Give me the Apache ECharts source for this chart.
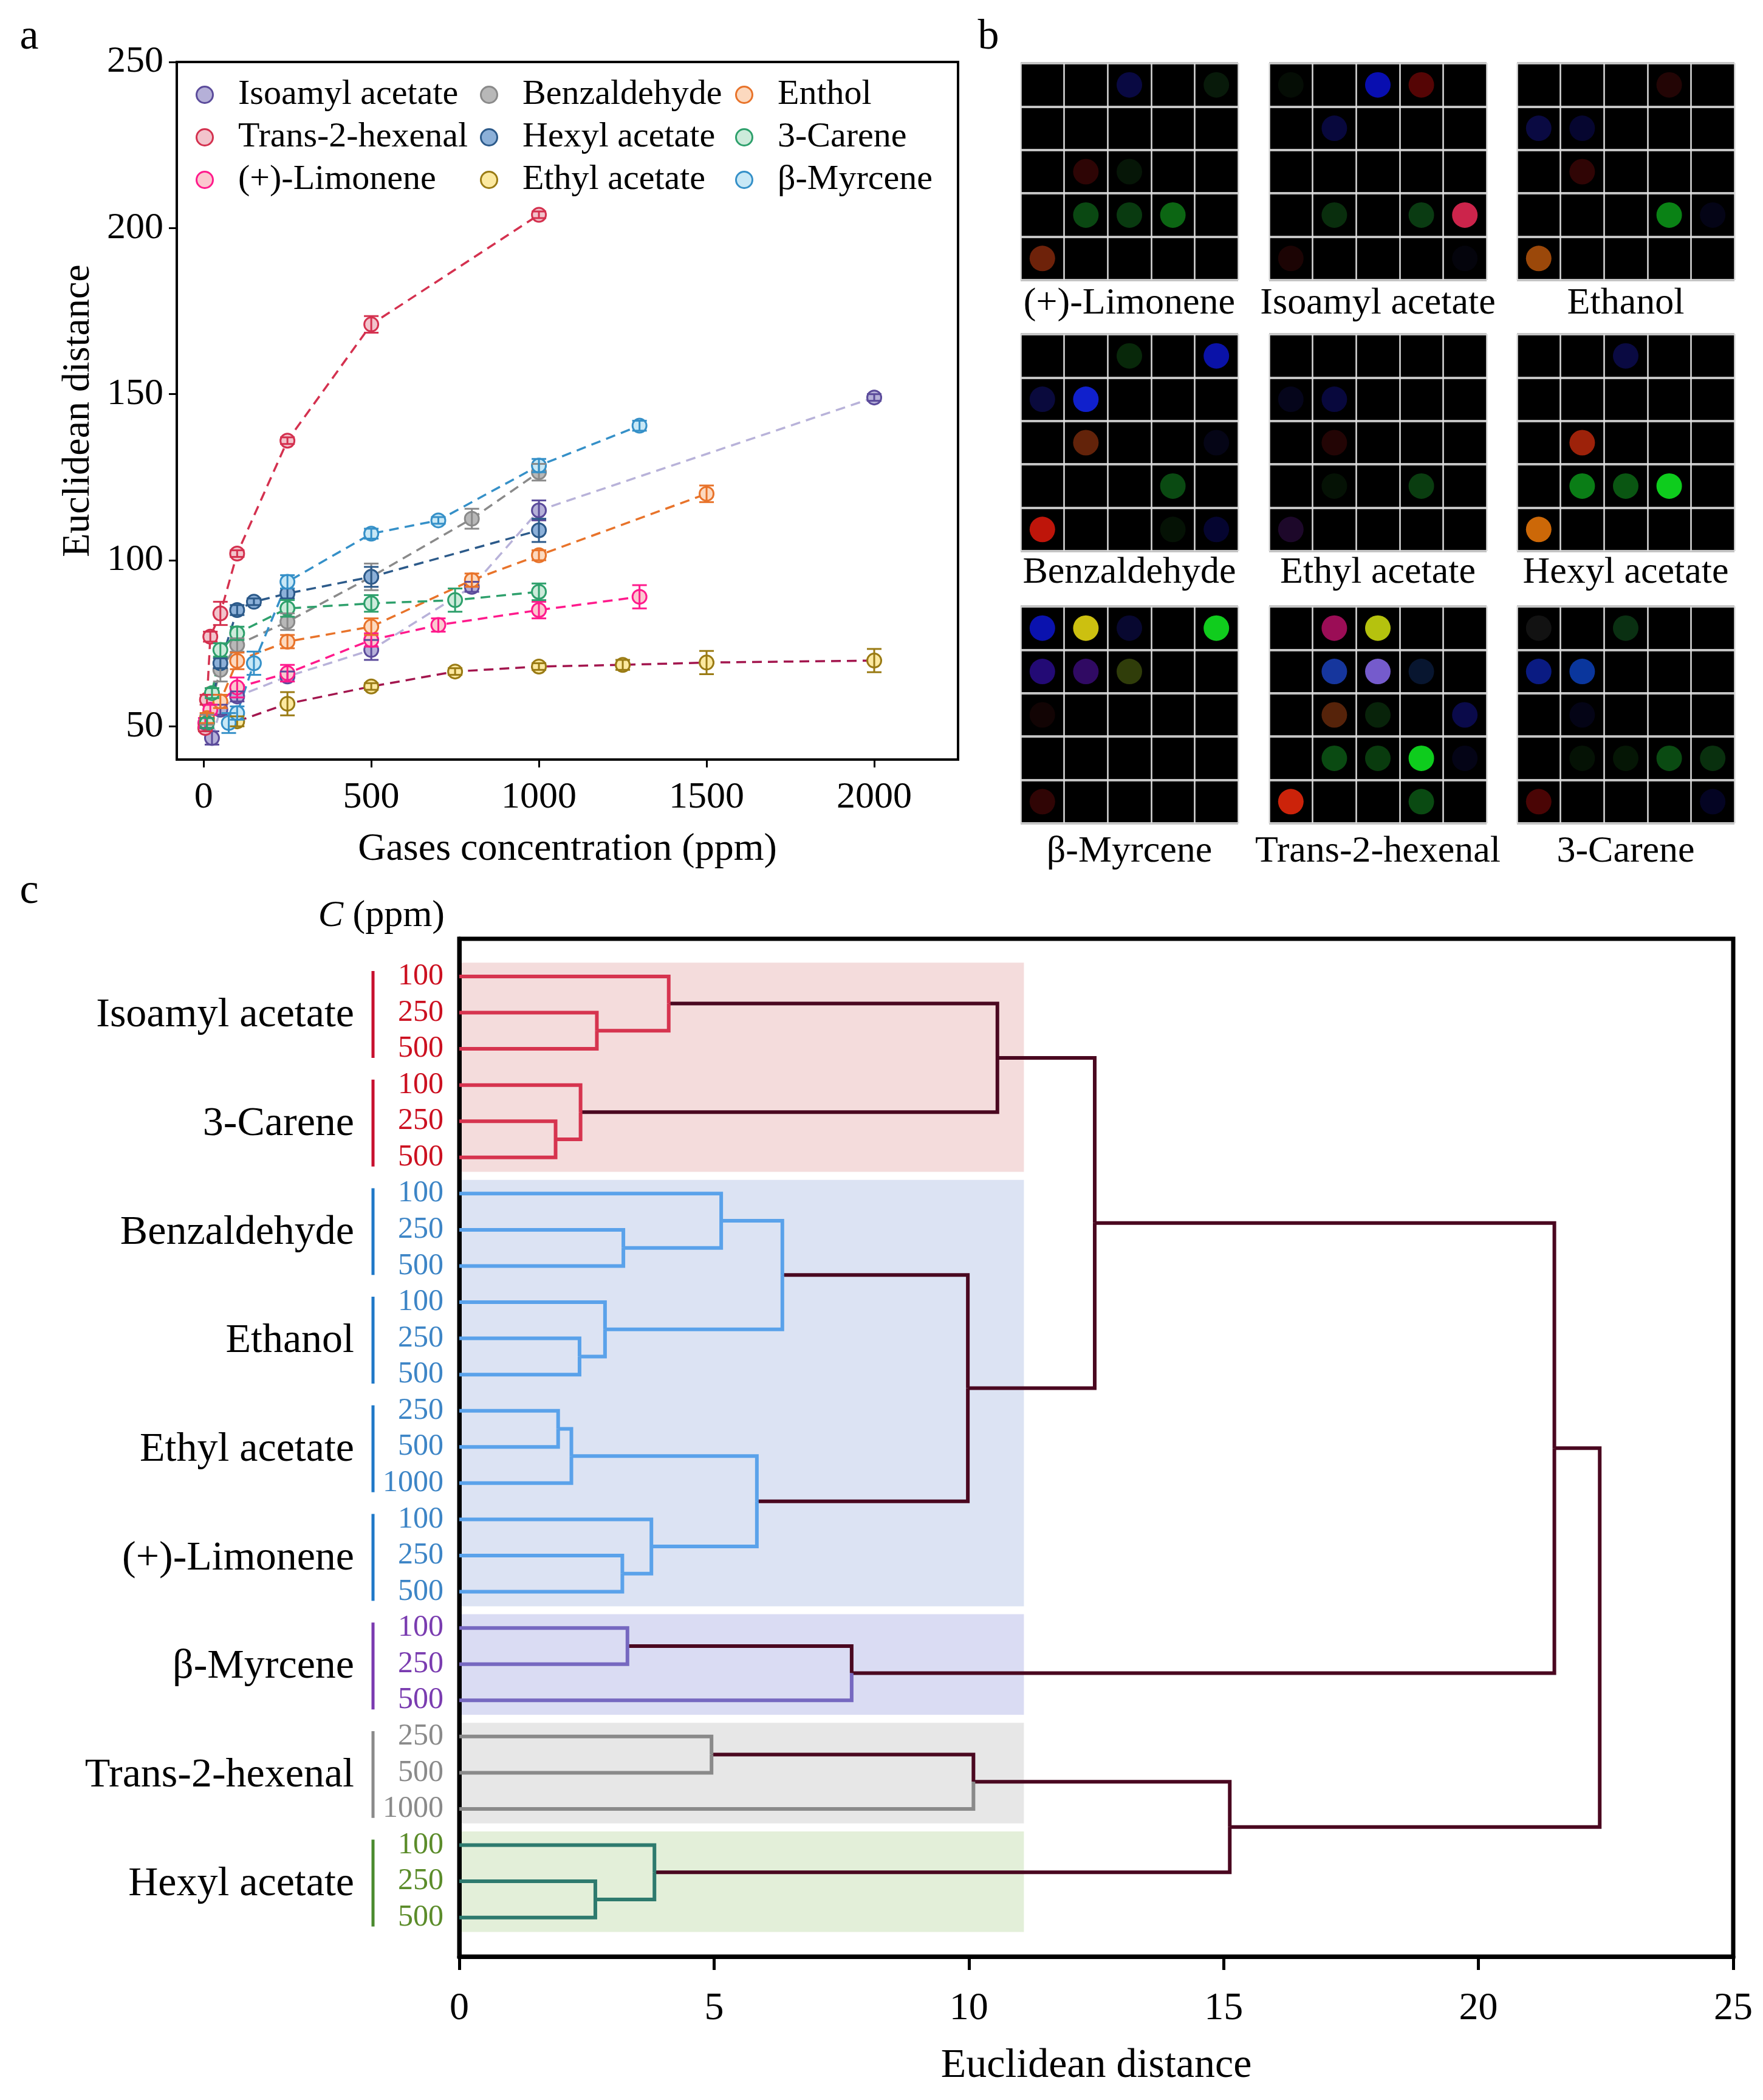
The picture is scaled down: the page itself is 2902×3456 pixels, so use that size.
<!DOCTYPE html>
<html><head><meta charset="utf-8">
<script src="https://cdn.jsdelivr.net/npm/echarts@6/dist/echarts.min.js"></script>
<style>html,body{margin:0;padding:0;background:#fff;font-family:'Liberation Serif',serif}#c{width:2902px;height:3456px}</style>
</head><body><div id="c"></div><script>
// ---------- Panel a data ----------
const isoamylConc = [25,50,100,250,500,800,1000,2000];
const isoamylVal  = [46.5,55,59,65,73,92,115,149];
const isoamylErr  = [2,1.5,1.5,1.5,3,1.5,3,1];
const transConc = [5,10,20,50,100,250,500,1000];
const transVal  = [49.5,58,77,84,102,136,171,204];
const transErr  = [1,1.5,1.5,3.5,1,1,2.5,1];
const limoneneConc = [5,20,100,250,500,700,1000,1300];
const limoneneVal  = [51,55,61.7,66,76,80.5,85,89];
const limoneneErr  = [1.5,1.5,3,2.5,2,2,2.5,3.5];
const benzConc = [10,50,100,250,500,800,1000];
const benzVal  = [52,67,74.5,81.5,95,112.5,126.5];
const benzErr  = [1.5,3.5,2,2.5,4,3,2.5];
const hexylConc = [10,50,100,150,250,500,1000];
const hexylVal  = [51,69,85,87.5,90,95,109];
const hexylErr  = [1.5,1.5,1.5,1,1.5,3,3.5];
const ethylConc = [100,250,500,750,1000,1250,1500,2000];
const ethylVal  = [51.5,56.8,62,66.5,68,68.5,69.2,69.8];
const ethylErr  = [1.5,3.5,1,1,1,1.5,3.5,3.5];
const entholConc = [10,50,100,250,500,800,1000,1500];
const entholVal  = [52.5,57.5,69.7,75.5,80,94,101.5,120];
const entholErr  = [1.5,2,2.5,2,2.5,2,1.5,2.5];
const careneConc = [10,25,50,100,250,500,750,1000];
const careneVal  = [51,60,73,78,85.5,87,88,90.5];
const careneErr  = [1.5,1.5,2,2,2.5,2.5,3.5,2.5];
const myrceneConc = [75,100,150,250,500,700,1000,1300];
const myrceneVal  = [51,54,69,93.5,108,112,128.5,140.5];
const myrceneErr  = [3,2,3.5,2,1.5,1,2,1.5];
const xTicksA = [0,500,1000,1500,2000];
const yTicksA = [50,100,150,200,250];

// ---------- Panel b data (sensor spot colours: [col,row,colour]) ----------
const arrayNames = ['(+)-Limonene','Isoamyl acetate','Ethanol','Benzaldehyde','Ethyl acetate','Hexyl acetate','β-Myrcene','Trans-2-hexenal','3-Carene'];
const spotsLimonene = [[3,1,'#0b0b52'],[5,1,'#0a200c'],[2,3,'#3a0606'],[3,3,'#071c09'],[2,4,'#0c5a17'],[3,4,'#0b4814'],[4,4,'#0f7f18'],[1,5,'#8a2b0d']];
const spotsIsoamyl = [[1,1,'#061006'],[3,1,'#0a12dc'],[4,1,'#6a0606'],[2,2,'#0a0a4c'],[2,4,'#0b3a10'],[4,4,'#0c4a16'],[5,4,'#ff2d5e'],[1,5,'#230505'],[5,5,'#05050f']];
const spotsEthanol = [[4,1,'#2c0606'],[1,2,'#0c0c52'],[2,2,'#08083c'],[2,3,'#3c0606'],[4,4,'#0ca21a'],[5,4,'#05051c'],[1,5,'#c25a0c']];
const spotsBenz = [[3,1,'#0a320c'],[5,1,'#0c16d2'],[1,2,'#0c0c4c'],[2,2,'#1428ff'],[2,3,'#7c2c0c'],[5,3,'#06061c'],[4,4,'#0c5c16'],[1,5,'#ee1a0c'],[4,5,'#061606'],[5,5,'#06063c']];
const spotsEthyl = [[1,2,'#060622'],[2,2,'#0a0a4c'],[2,3,'#2c0606'],[2,4,'#061606'],[4,4,'#0c4c14'],[1,5,'#240a34']];
const spotsHexyl = [[3,1,'#0c0c52'],[2,3,'#c42a0c'],[2,4,'#0c9c1c'],[3,4,'#0c6c16'],[4,4,'#12ff24'],[1,5,'#ff820a']];
const spotsMyrcene = [[1,1,'#0c16da'],[2,1,'#fff014'],[3,1,'#0a0a3c'],[5,1,'#14ff24'],[1,2,'#2c0c92'],[2,2,'#3c0c7c'],[3,2,'#3c4c0c'],[1,3,'#160505'],[1,5,'#3c0606']];
const spotsTrans = [[2,1,'#c2106c'],[3,1,'#e2f212'],[2,2,'#1c44c4'],[3,2,'#9272ff'],[4,2,'#0a1c3c'],[2,3,'#6c2c0c'],[3,3,'#0a2c0c'],[5,3,'#0c0c5c'],[2,4,'#0c5c16'],[3,4,'#0b4a12'],[4,4,'#12ff24'],[5,4,'#05051c'],[1,5,'#ff2c0c'],[4,5,'#0c5c16']];
const spotsCarene = [[1,1,'#161616'],[3,1,'#0c3c16'],[1,2,'#0c22a2'],[2,2,'#0c44c4'],[2,3,'#05051c'],[2,4,'#061606'],[3,4,'#061c06'],[4,4,'#0c5c16'],[5,4,'#0b3c12'],[1,5,'#5c0606'],[5,5,'#05052c']];

// ---------- Panel c data ----------
const leafConc = ['100','250','500','100','250','500','100','250','500','100','250','500','250','500','1000','100','250','500','100','250','500','250','500','1000','100','250','500'];
const leafCluster = [0,0,0,0,0,0,1,1,1,1,1,1,1,1,1,1,1,1,2,2,2,3,3,3,4,4,4];
const gasGroups = ['Isoamyl acetate','3-Carene','Benzaldehyde','Ethanol','Ethyl acetate','(+)-Limonene','β-Myrcene','Trans-2-hexenal','Hexyl acetate'];
const gasStart = [0,3,6,9,12,15,18,21,24];
const gasCluster = [0,0,1,1,1,1,2,3,4];
// merges: [childA, childB, distance]; new node ids start at 27
const merges = [
  [1,2,2.70],[0,27,4.11],[4,5,1.89],[3,29,2.38],[28,30,10.56],
  [7,8,3.22],[6,32,5.14],[10,11,2.36],[9,34,2.86],[33,35,6.34],
  [12,13,1.94],[37,14,2.20],[16,17,3.20],[15,39,3.77],[38,40,5.84],
  [36,41,9.98],[31,42,12.47],[18,19,3.30],[44,20,7.70],[43,45,21.49],
  [21,22,4.95],[47,23,10.09],[25,26,2.67],[24,49,3.83],[48,50,15.12],[46,51,22.38]
];
const clusterRanges = [[0,5],[6,17],[18,20],[21,23],[24,26]];

// ---------- styles ----------
const FONT = "'Liberation Serif', 'Times New Roman', serif";
const gasStyle = {
  'Isoamyl acetate': {fill:'#b5b0d8', edge:'#5b4b9b', line:'#b8b2d9'},
  'Trans-2-hexenal': {fill:'#f2c4cc', edge:'#d4314f', line:'#d4314f'},
  '(+)-Limonene':    {fill:'#fbc8cf', edge:'#ff1a8c', line:'#ff1a8c'},
  'Benzaldehyde':    {fill:'#b8b8b8', edge:'#8a8a8a', line:'#8a8a8a'},
  'Hexyl acetate':   {fill:'#8cb0d8', edge:'#2c5a8a', line:'#2c5a8a'},
  'Ethyl acetate':   {fill:'#fce9a0', edge:'#9a7b14', line:'#a3164e'},
  'Enthol':          {fill:'#fcd9bf', edge:'#e8732a', line:'#e8732a'},
  '3-Carene':        {fill:'#cdebdb', edge:'#2ea06c', line:'#2ea06c'},
  'β-Myrcene':       {fill:'#c8e8f6', edge:'#3590c8', line:'#3590c8'}
};
const clusterLine = ['#d6344f','#5aa2ea','#7668c0','#8a8a8a','#2e7a6e'];
const clusterBg = ['#f4dcdc','#dce3f3','#dadcf3','#e7e7e7','#e3efd9'];
const clusterText = ['#cc1020','#3d85c6','#7a3cb0','#8a8a8a','#5b8c2a'];
const clusterBracket = ['#c8102e','#1f78c8','#7b3bb0','#8a8a8a','#4a8a2e'];
const MAROON = '#4a0820';

const panelA = [
  ['Isoamyl acetate', isoamylConc, isoamylVal, isoamylErr],
  ['Trans-2-hexenal', transConc, transVal, transErr],
  ['(+)-Limonene', limoneneConc, limoneneVal, limoneneErr],
  ['Benzaldehyde', benzConc, benzVal, benzErr],
  ['Hexyl acetate', hexylConc, hexylVal, hexylErr],
  ['Ethyl acetate', ethylConc, ethylVal, ethylErr],
  ['Enthol', entholConc, entholVal, entholErr],
  ['3-Carene', careneConc, careneVal, careneErr],
  ['β-Myrcene', myrceneConc, myrceneVal, myrceneErr]
];
const spotSets = [spotsLimonene, spotsIsoamyl, spotsEthanol, spotsBenz, spotsEthyl, spotsHexyl, spotsMyrcene, spotsTrans, spotsCarene];

const grid = [], xAxis = [], yAxis = [], series = [], graphic = [];
const plain = v => String(v);

// ---- Panel a ----
grid.push({left:291, top:102, width:1286, height:1148, show:true, borderColor:'#000', borderWidth:4, backgroundColor:'transparent'});
xAxis.push({type:'value', gridIndex:0, min:-80, max:2250,
  axisLine:{show:true, onZero:false, lineStyle:{color:'#000', width:4}},
  axisTick:{show:true, customValues:xTicksA, length:13, lineStyle:{color:'#000', width:3}},
  axisLabel:{customValues:xTicksA, formatter:plain, fontSize:62, fontFamily:FONT, color:'#000', margin:32},
  splitLine:{show:false},
  name:'Gases concentration (ppm)', nameLocation:'middle', nameGap:116,
  nameTextStyle:{fontSize:64, fontFamily:FONT, color:'#000'}});
yAxis.push({type:'value', gridIndex:0, min:40, max:250,
  axisLine:{show:true, onZero:false, lineStyle:{color:'#000', width:4}},
  axisTick:{show:true, customValues:yTicksA, length:13, lineStyle:{color:'#000', width:3}},
  axisLabel:{customValues:yTicksA, formatter:plain, fontSize:62, fontFamily:FONT, color:'#000', margin:22},
  splitLine:{show:false},
  name:'Euclidean distance', nameLocation:'middle', nameGap:130,
  nameTextStyle:{fontSize:64, fontFamily:FONT, color:'#000'}});

function errRender(color){
  return function(params, api){
    const x = api.value(0), lo = api.value(1), hi = api.value(2);
    const p1 = api.coord([x, lo]), p2 = api.coord([x, hi]);
    const hw = 12, st = {stroke:color, lineWidth:3};
    return {type:'group', children:[
      {type:'line', shape:{x1:p1[0], y1:p1[1], x2:p2[0], y2:p2[1]}, style:st},
      {type:'line', shape:{x1:p1[0]-hw, y1:p1[1], x2:p1[0]+hw, y2:p1[1]}, style:st},
      {type:'line', shape:{x1:p2[0]-hw, y1:p2[1], x2:p2[0]+hw, y2:p2[1]}, style:st}
    ]};
  };
}
panelA.forEach(([name, conc, val, err]) => {
  const s = gasStyle[name];
  series.push({type:'line', name, xAxisIndex:0, yAxisIndex:0,
    data: conc.map((c,i)=>[c, val[i]]),
    symbol:'circle', symbolSize:23, showAllSymbol:true,
    itemStyle:{color:s.fill, borderColor:s.edge, borderWidth:3},
    lineStyle:{color:s.line, width:3.5, type:[16,10]},
    emphasis:{disabled:true}, z:2, animation:false});
  series.push({type:'custom', name:name+' error', xAxisIndex:0, yAxisIndex:0,
    data: conc.map((c,i)=>[c, val[i]-err[i], val[i]+err[i]]),
    encode:{x:0, y:[1,2]}, renderItem: errRender(s.edge), silent:true, z:3, animation:false});
});
const legendCols = [
  [['Isoamyl acetate','Trans-2-hexenal','(+)-Limonene'], 317],
  [['Benzaldehyde','Hexyl acetate','Ethyl acetate'], 785],
  [['Enthol','3-Carene','β-Myrcene'], 1205]
];
const legend = legendCols.map(([names, left]) => ({
  data:names, left, top:122, orient:'vertical', icon:'circle',
  itemWidth:60, itemHeight:27, itemGap:12, selectedMode:false,
  itemStyle:{borderWidth:3},
  textStyle:{fontSize:58, fontFamily:FONT, color:'#000', lineHeight:58, padding:[0,0,0,20]}
}));

// ---- Panel c ----
grid.push({left:756, top:1545, width:2097, height:1675, show:true, borderColor:'#000', borderWidth:7, backgroundColor:'transparent'});
xAxis.push({type:'value', gridIndex:1, min:0, max:25, interval:5,
  axisLine:{show:true, onZero:false, lineStyle:{color:'#000', width:7}},
  axisTick:{show:true, length:22, lineStyle:{color:'#000', width:5}},
  axisLabel:{formatter:plain, fontSize:64, fontFamily:FONT, color:'#000', margin:54},
  splitLine:{show:false},
  name:'Euclidean distance', nameLocation:'middle', nameGap:146,
  nameTextStyle:{fontSize:68, fontFamily:FONT, color:'#000'}});
yAxis.push({type:'value', gridIndex:1, min:-1.04, max:27.08, inverse:true,
  axisLine:{show:true, onZero:false, lineStyle:{color:'#000', width:7}},
  axisTick:{show:false}, axisLabel:{show:false}, splitLine:{show:false}});

// cluster background bands
series.push({type:'custom', xAxisIndex:1, yAxisIndex:1, silent:true, z:1, animation:false,
  data: clusterRanges.map((r,i)=>[r[0], r[1], i]),
  renderItem(params, api){
    const a = api.coord([0, api.value(0)-0.38]);
    const b = api.coord([11.08, api.value(1)+0.4]);
    const x0 = a[0] + 4;
    return {type:'rect', shape:{x:x0, y:a[1], width:b[0]-x0, height:b[1]-a[1]},
      style:{fill:clusterBg[api.value(2)]}};
  }});

// build dendrogram arms
const nLeaf = leafConc.length;
const node = [];
for (let i=0;i<nLeaf;i++) node.push({h:0, y:i, c:leafCluster[i], leaf:true});
const arms = [];
merges.forEach(([a,b,h]) => {
  const A = node[a], B = node[b];
  const mid = (A.y + B.y)/2;
  [A,B].forEach(ch => {
    const colored = ch.c >= 0 && (ch.leaf || h < 7);
    arms.push([ch.h, ch.y, h, mid, colored ? ch.c : -1]);
  });
  node.push({h, y:mid, c:(A.c===B.c ? A.c : -1), leaf:false});
});
arms.sort((p,q)=> (p[4]===-1?0:1) - (q[4]===-1?0:1));
series.push({type:'custom', xAxisIndex:1, yAxisIndex:1, silent:true, z:3, animation:false, clip:false,
  data: arms,
  renderItem(params, api){
    const y0 = api.value(1);
    const p0 = api.coord([api.value(0), y0]);
    const p1 = api.coord([api.value(2), y0]);
    const p2 = api.coord([api.value(2), api.value(3)]);
    const ci = api.value(4);
    return {type:'polyline', shape:{points:[p0,p1,p2]},
      style:{stroke: ci < 0 ? MAROON : clusterLine[ci], lineWidth:6, fill:null, lineJoin:'miter'}};
  }});
// leaf concentration labels
series.push({type:'custom', xAxisIndex:1, yAxisIndex:1, silent:true, z:4, animation:false, clip:false,
  data: leafConc.map((t,i)=>[0, i, leafCluster[i]]),
  renderItem(params, api){
    const p = api.coord([0, api.value(1)]);
    return {type:'text', x:p[0]-26, y:p[1],
      style:{text: leafConc[params.dataIndex], fill: clusterText[api.value(2)], fontSize:50, fontFamily:FONT, align:'right', verticalAlign:'middle'}};
  }});
// gas group labels and brackets
series.push({type:'custom', xAxisIndex:1, yAxisIndex:1, silent:true, z:4, animation:false, clip:false,
  data: gasGroups.map((g,i)=>[0, gasStart[i], gasCluster[i]]),
  renderItem(params, api){
    const s = api.value(1);
    const top = api.coord([0, s-0.15]), bot = api.coord([0, s+2.25]), mid = api.coord([0, s+1.08]);
    return {type:'group', children:[
      {type:'line', shape:{x1:top[0]-142, y1:top[1], x2:bot[0]-142, y2:bot[1]},
        style:{stroke: clusterBracket[api.value(2)], lineWidth:5}},
      {type:'text', x:mid[0]-173, y:mid[1],
        style:{text: gasGroups[params.dataIndex], fill:'#000', fontSize:68, fontFamily:FONT, align:'right', verticalAlign:'middle'}}
    ]};
  }});

// ---- Panel b ----
const bLeft = [1680, 2089, 2497], bTop = [104, 550, 998], bW = 358, bH = 357;
const bLabelY = [500, 943, 1402];
spotSets.forEach((spots, k) => {
  const col = k % 3, row = Math.floor(k / 3);
  const gi = grid.length;
  grid.push({left:bLeft[col], top:bTop[row], width:bW, height:bH, show:true, backgroundColor:'#000', borderWidth:0});
  xAxis.push({type:'value', gridIndex:gi, min:0, max:5, interval:1,
    axisLine:{show:false}, axisTick:{show:false}, axisLabel:{show:false},
    splitLine:{show:true, lineStyle:{color:'#dcdcdc', width:2.5}}});
  yAxis.push({type:'value', gridIndex:gi, min:0, max:5, interval:1, inverse:true,
    axisLine:{show:false}, axisTick:{show:false}, axisLabel:{show:false},
    splitLine:{show:true, lineStyle:{color:'#c4c4c4', width:4}}});
  series.push({type:'scatter', xAxisIndex:gi, yAxisIndex:gi, symbol:'circle', symbolSize:42, silent:true, animation:false,
    data: spots.map(([c,r,clr]) => ({value:[c-0.5, r-0.5], itemStyle:{color:clr}}))});
  graphic.push({type:'text', x:bLeft[col]+bW/2, y:bLabelY[row],
    style:{text:arrayNames[k], fontSize:62, fontFamily:FONT, fill:'#000', align:'center', verticalAlign:'middle'}});
});

// panel letters & C (ppm)
[['a',48,62],['b',1627,62],['c',48,1468]].forEach(([t,x,y]) => graphic.push({type:'text', x, y,
  style:{text:t, fontSize:70, fontFamily:FONT, fill:'#000', align:'center', verticalAlign:'middle'}}));
graphic.push({type:'text', x:732, y:1508,
  style:{text:'{i|C} (ppm)', fontSize:62, fontFamily:FONT, fill:'#000', align:'right', verticalAlign:'middle',
    rich:{i:{fontStyle:'italic', fontSize:62, fontFamily:FONT, fill:'#000'}}}});

const chart = echarts.init(document.getElementById('c'), null, {renderer:'canvas'});
chart.setOption({backgroundColor:'#fff', animation:false,
  textStyle:{fontFamily:FONT, color:'#000'},
  grid, xAxis, yAxis, series, legend, graphic});
</script></body></html>
